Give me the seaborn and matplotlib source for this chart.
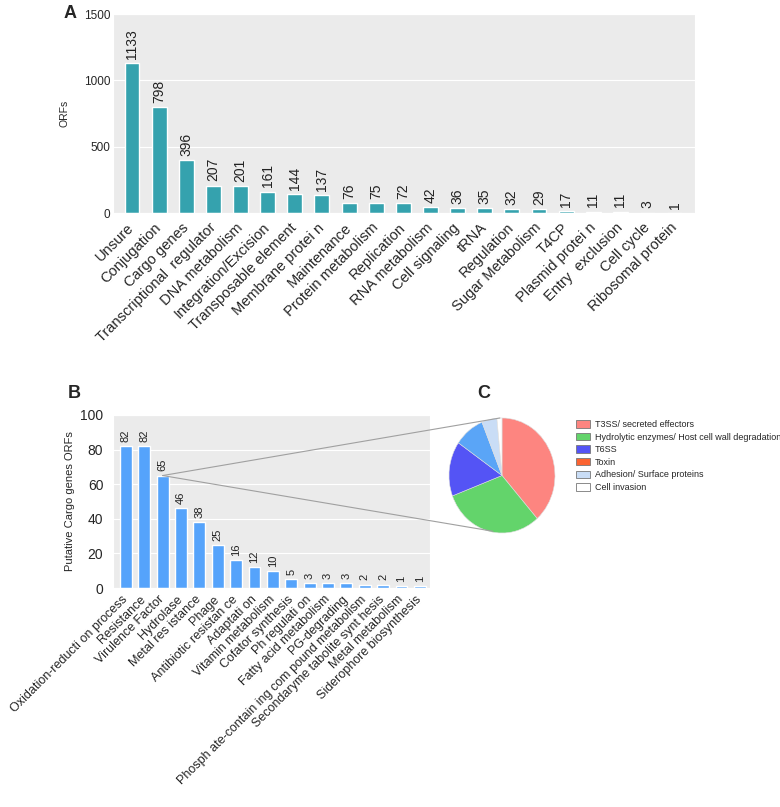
import numpy as np
import pandas as pd
import matplotlib
matplotlib.use('Agg')
import matplotlib.pyplot as plt
from matplotlib.patches import ConnectionPatch, Patch
import seaborn as sns

# Panel A data
orf_categories = ['Unsure', 'Conjugation', 'Cargo genes', 'Transcriptional  regulator',
                  'DNA metabolism', 'Integration/Excision', 'Transposable element',
                  'Membrane protei n', 'Maintenance', 'Protein metabolism', 'Replication',
                  'RNA metabolism', 'Cell signaling', 'tRNA', 'Regulation',
                  'Sugar Metabolism', 'T4CP', 'Plasmid protei n', 'Entry  exclusion',
                  'Cell cycle', 'Ribosomal protein']
orf_counts = [1133, 798, 396, 207, 201, 161, 144, 137, 76, 75, 72, 42, 36, 35, 32, 29,
              17, 11, 11, 3, 1]

# Panel B data
cargo_categories = ['Oxidation-reducti on process', 'Resistance', 'Virulence Factor',
                    'Hydrolase', 'Metal res istance', 'Phage', 'Antibiotic resistan ce',
                    'Adaptati on', 'Vitamin metabolism', 'Cofator synthesis',
                    'Ph regulati on', 'Fatty acid metabolism', 'PG-degrading',
                    'Phosph ate-contain ing com pound metabolism',
                    'Secondaryme tabolite synt hesis', 'Metal metabolism',
                    'Siderophore biosynthesis']
cargo_counts = [82, 82, 65, 46, 38, 25, 16, 12, 10, 5, 3, 3, 3, 2, 2, 1, 1]

# Panel C data (virulence factor breakdown)
vf_labels = ['T3SS/ secreted effectors', 'Hydrolytic enzymes/ Host cell wall degradation',
             'T6SS', 'Toxin', 'Adhesion/ Surface proteins', 'Cell invasion']
vf_counts = [25, 20, 10, 6, 3, 1]
vf_slice_colors = ['#fd8580', '#63d46b', '#5454f5', '#5aa5f7', '#c9ddf6', '#ffffff']
vf_legend_colors = ['#fd8580', '#63d46b', '#5454f5', '#fb6331', '#c9ddf6', '#ffffff']

sns.set_style('darkgrid', {'axes.facecolor': '#ebebeb', 'grid.color': 'white'})
plt.rcParams['font.family'] = ['Liberation Sans', 'DejaVu Sans']

W, H = 780, 807
fig = plt.figure(figsize=(W / 100, H / 100), dpi=100)


def px_axes(left, top, right, bottom):
    return fig.add_axes([left / W, 1 - bottom / H, (right - left) / W, (bottom - top) / H])


# ---- Panel A ----
axA = px_axes(113, 14, 695, 213)
dfA = pd.DataFrame({'category': orf_categories, 'count': orf_counts})
sns.barplot(data=dfA, x='category', y='count', color='#35a2ae', saturation=1,
            width=0.55, ax=axA)
axA.bar_label(axA.containers[0], rotation=90, padding=3, fontsize=10, color='#222222')
axA.set_ylim(0, 1500)
axA.set_yticks([0, 500, 1000, 1500])
axA.set_xlim(-0.7, len(orf_counts) - 0.25)
axA.set_xlabel('')
axA.set_ylabel('ORFs', fontsize=7.5, labelpad=10)
axA.grid(axis='x', visible=False)
axA.tick_params(axis='y', labelsize=8.5, pad=2, length=0)
axA.tick_params(axis='x', length=0, pad=9)
plt.setp(axA.get_xticklabels(), rotation=45, ha='right', va='center',
         rotation_mode='anchor', fontsize=10.5)
fig.text(64 / W, 1 - 13 / H, 'A', fontsize=13, fontweight='bold', va='center')

# ---- Panel B ----
axB = px_axes(113, 415, 430, 588)
dfB = pd.DataFrame({'category': cargo_categories, 'count': cargo_counts})
sns.barplot(data=dfB, x='category', y='count', color='#55a3fb', saturation=1,
            width=0.65, ax=axB)
axB.bar_label(axB.containers[0], rotation=90, padding=3, fontsize=8, color='#222222')
axB.set_ylim(0, 100)
axB.set_yticks([0, 20, 40, 60, 80, 100])
axB.set_xlim(-0.7, len(cargo_counts) - 0.45)
axB.set_xlabel('')
axB.set_ylabel('Putative Cargo genes ORFs', fontsize=8, labelpad=4)
axB.grid(axis='x', visible=False)
axB.tick_params(axis='y', labelsize=10, pad=7, length=0)
axB.tick_params(axis='x', length=0, pad=7)
plt.setp(axB.get_xticklabels(), rotation=45, ha='right', va='center',
         rotation_mode='anchor', fontsize=9)
fig.text(68 / W, 1 - 393 / H, 'B', fontsize=13, fontweight='bold', va='center')

# ---- Panel C ----
axC = px_axes(449, 418, 555, 533)
axC.pie(vf_counts, colors=vf_slice_colors, startangle=90, counterclock=False,
        wedgeprops={'linewidth': 0.4, 'edgecolor': '#dddddd'})
axC.set_aspect('auto')
axC.set_xlim(-1, 1)
axC.set_ylim(-1, 1)
fig.text(477 / W, 1 - 393 / H, 'C', fontsize=13, fontweight='bold', va='center')

handles = [Patch(facecolor=c, edgecolor='#777777', linewidth=0.6) for c in vf_legend_colors]
fig.legend(handles, vf_labels, loc='upper left', bbox_to_anchor=(576 / W, 1 - 420 / H),
           frameon=False, fontsize=6.5, handlelength=1.5, handleheight=0.9,
           handletextpad=0.6, labelspacing=0.4, borderaxespad=0, borderpad=0)

# zoom lines from the top of the Virulence Factor bar to the pie
vf_bar = axB.patches[cargo_categories.index('Virulence Factor')]
bar_top = (vf_bar.get_x() + vf_bar.get_width() / 2, vf_bar.get_height())
bar_top_px = axB.transData.transform(bar_top)
for xy_pie in [(-0.04, 1.0), (-0.17, -0.97)]:
    con = ConnectionPatch(xyA=tuple(bar_top_px), coordsA='figure pixels',
                          xyB=xy_pie, coordsB='data', axesB=axC,
                          color='#a0a0a0', linewidth=0.8)
    fig.add_artist(con)

fig.savefig('out.png', dpi=100)
